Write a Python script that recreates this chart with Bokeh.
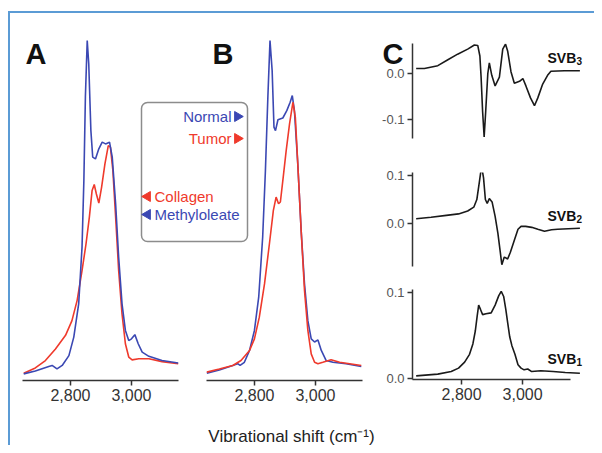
import math
from bokeh.plotting import figure
from bokeh.models import (Range1d, FixedTicker, NumeralTickFormatter,
                          PrintfTickFormatter, Label, BoxAnnotation)
from bokeh.layouts import row, column
from bokeh.embed import file_html
from bokeh.resources import INLINE

# ---------------- data ----------------
x_ticks = [2800, 3000]

# Panel A: reference compounds
a_methyl_x = [2647, 2685, 2729, 2740, 2756, 2773, 2795, 2811, 2827, 2838, 2844, 2849, 2855, 2860,
              2867, 2873, 2882, 2893, 2904, 2915, 2928, 2937, 2948, 2958, 2969, 2980, 2991, 3000,
              3011, 3022, 3035, 3057, 3100, 3153]
a_methyl_y = [0.019, 0.027, 0.040, 0.043, 0.033, 0.043, 0.071, 0.124, 0.219, 0.381, 0.571, 0.810,
              0.971, 0.905, 0.714, 0.638, 0.633, 0.662, 0.681, 0.676, 0.681, 0.638, 0.505, 0.352,
              0.219, 0.143, 0.114, 0.119, 0.131, 0.105, 0.081, 0.069, 0.057, 0.050]
a_collagen_x = [2647, 2685, 2718, 2751, 2784, 2805, 2822, 2838, 2851, 2862, 2871, 2878, 2885, 2893,
                2902, 2913, 2924, 2931, 2939, 2948, 2958, 2969, 2980, 2991, 3002, 3024, 3057, 3100,
                3153]
a_collagen_y = [0.021, 0.036, 0.057, 0.090, 0.129, 0.171, 0.229, 0.314, 0.390, 0.467, 0.543, 0.560,
                0.533, 0.507, 0.552, 0.619, 0.671, 0.667, 0.600, 0.467, 0.314, 0.190, 0.105, 0.067,
                0.059, 0.062, 0.062, 0.054, 0.048]

# Panel B: tissues
b_normal_x = [2644, 2685, 2729, 2745, 2753, 2767, 2784, 2800, 2814, 2827, 2836, 2844, 2851, 2858,
              2864, 2869, 2877, 2893, 2906, 2917, 2924, 2931, 2942, 2953, 2964, 2975, 2986, 2997,
              3008, 3019, 3035, 3057, 3100, 3150]
b_normal_y = [0.021, 0.030, 0.043, 0.048, 0.043, 0.052, 0.086, 0.143, 0.238, 0.410, 0.600, 0.810,
              0.971, 0.886, 0.724, 0.714, 0.745, 0.750, 0.771, 0.795, 0.814, 0.771, 0.619, 0.429,
              0.276, 0.171, 0.119, 0.110, 0.116, 0.086, 0.057, 0.052, 0.048, 0.040]
b_tumor_x = [2644, 2685, 2729, 2756, 2784, 2800, 2816, 2833, 2849, 2862, 2871, 2879, 2885, 2893,
             2904, 2915, 2926, 2934, 2942, 2953, 2964, 2975, 2986, 2997, 3008, 3024, 3051, 3079, 3150]
b_tumor_y = [0.024, 0.033, 0.043, 0.057, 0.086, 0.119, 0.181, 0.276, 0.390, 0.486, 0.524, 0.505,
             0.510, 0.571, 0.657, 0.733, 0.795, 0.752, 0.619, 0.429, 0.257, 0.143, 0.076, 0.052,
             0.048, 0.052, 0.059, 0.052, 0.043]

# Panel C: singular value basis spectra
svb3_x = [2651, 2678, 2722, 2755, 2787, 2820, 2842, 2853, 2860, 2864, 2869, 2874, 2879, 2886, 2891,
          2899, 2910, 2924, 2935, 2944, 2951, 2962, 2973, 2990, 3001, 3011, 3026, 3039, 3050, 3066,
          3082, 3093, 3137, 3188]
svb3_y = [0.011, 0.011, 0.017, 0.030, 0.042, 0.053, 0.062, 0.061, 0.038, -0.008, -0.083, -0.138,
          -0.083, 0.000, 0.023, -0.004, -0.027, -0.008, 0.053, 0.064, 0.049, 0.004, -0.021, -0.017,
          -0.011, -0.027, -0.053, -0.070, -0.053, -0.023, -0.004, 0.005, 0.006, 0.006]
svb2_x = [2651, 2700, 2750, 2790, 2820, 2840, 2850, 2858, 2863, 2867, 2872, 2878, 2884, 2891, 2900,
          2910, 2919, 2926, 2932, 2940, 2946, 2951, 2960, 2973, 2985, 2995, 3010, 3030, 3050, 3072,
          3095, 3115, 3150, 3188]
svb2_y = [0.010, 0.013, 0.017, 0.020, 0.026, 0.034, 0.050, 0.085, 0.108, 0.114, 0.095, 0.050, 0.042,
          0.052, 0.045, 0.015, -0.020, -0.055, -0.086, -0.070, -0.072, -0.074, -0.060, -0.035,
          -0.012, -0.006, -0.006, -0.008, -0.012, -0.016, -0.013, -0.012, -0.011, -0.010]
svb1_x = [2651, 2722, 2766, 2790, 2810, 2826, 2837, 2845, 2851, 2856, 2862, 2869, 2880, 2897, 2910,
          2922, 2930, 2938, 2945, 2951, 2958, 2965, 2975, 2985, 2995, 3005, 3017, 3030, 3060, 3100,
          3140, 3188]
svb1_y = [0.003, 0.005, 0.008, 0.012, 0.019, 0.028, 0.040, 0.055, 0.072, 0.085, 0.080, 0.074, 0.075,
          0.076, 0.085, 0.096, 0.101, 0.095, 0.080, 0.065, 0.048, 0.038, 0.028, 0.016, 0.012, 0.010,
          0.011, 0.008, 0.009, 0.008, 0.007, 0.006]

legend_labels = ["Normal", "Tumor", "Collagen", "Methyloleate"]

# ---------------- styling / layout ----------------
BLUE = "#3b48b3"
RED = "#ef3a2c"
INK = "#222222"
FONT = "Liberation Sans"
legend_colors = [BLUE, RED, RED, BLUE]
legend_side = ["right", "right", "left", "left"]
legend_rows_px = [116, 138, 196, 214]

ORIGIN_X, ORIGIN_Y = 10, 13          # page position of the layout content
TOTAL_H = 432
X_START, X_END = 2643, 3154
PX_PER_UNIT = 0.3053

# ---- panels A + B share one frame (two x scales) ----
AB_BL, AB_BR, AB_BT = 12, 10, 17
AB_W, AB_H = 340, 350
AB_BB = TOTAL_H - AB_BT - AB_H
AB_TOTAL_W = AB_BL + AB_W + AB_BR
B_OFFSET = 184
span = AB_W / PX_PER_UNIT
range_a = (X_START, X_START + span)
range_b = (X_START - B_OFFSET / PX_PER_UNIT, X_START - B_OFFSET / PX_PER_UNIT + span)


def base_fig(**kw):
    f = figure(frame_width=AB_W, frame_height=AB_H, min_border_left=AB_BL,
               min_border_right=AB_BR, min_border_top=AB_BT, min_border_bottom=AB_BB,
               y_range=Range1d(0, 1), y_axis_location=None,
               toolbar_location=None, output_backend="svg", outline_line_color=None, **kw)
    f.grid.visible = False
    return f


def style_axis(ax, size="16px"):
    ax.axis_line_color = "#333333"
    ax.axis_line_width = 1.5
    ax.major_tick_line_color = "#333333"
    ax.major_tick_line_width = 1.5
    ax.major_tick_in = 0
    ax.major_tick_out = 5
    ax.minor_tick_line_color = None
    ax.major_label_text_font = FONT
    ax.major_label_text_font_size = size
    ax.major_label_text_color = "#333333"
    ax.major_label_standoff = 3


def spectrum_axis(ax):
    ax.ticker = FixedTicker(ticks=x_ticks)
    ax.formatter = NumeralTickFormatter(format="0,0")
    ax.bounds = (X_START, X_END)
    style_axis(ax)


# main figure: panel A scale as its own x range, panel B on an extra range
ab = base_fig(x_range=Range1d(*range_a), x_axis_location="below")
ab.extra_x_ranges = {"b": Range1d(*range_b)}
spectrum_axis(ab.xaxis[0])

# transparent overlay carrying panel B's axis at the same baseline
ab_axis_b = base_fig(x_range=Range1d(*range_b), x_axis_location="below",
                     background_fill_color=None, border_fill_color=None,
                     margin=(0, 0, 0, -AB_TOTAL_W))
spectrum_axis(ab_axis_b.xaxis[0])

FRAME_L = ORIGIN_X + AB_BL
FRAME_T = ORIGIN_Y + AB_BT


def abx(px):
    return range_a[0] + (px - FRAME_L) / PX_PER_UNIT


def aby(py):
    return (FRAME_T + AB_H - py) / AB_H


LW = 1.6
ab.line(a_collagen_x, a_collagen_y, color=RED, line_width=LW)
ab.line(a_methyl_x, a_methyl_y, color=BLUE, line_width=LW)
ab.line(b_normal_x, b_normal_y, x_range_name="b", color=BLUE, line_width=LW)
ab.line(b_tumor_x, b_tumor_y, x_range_name="b", color=RED, line_width=LW)

# legend box
ab.add_layout(BoxAnnotation(left=abx(141), right=abx(247), top=aby(102), bottom=aby(241),
                            fill_color="white", fill_alpha=1.0, line_color="#8c8c8c",
                            line_alpha=1.0, line_width=1.5, border_radius=6, level="underlay"))
for lab, col, side, py in zip(legend_labels, legend_colors, legend_side, legend_rows_px):
    if side == "right":
        ab.add_layout(Label(x=abx(231), y=aby(py), text=lab, text_align="right",
                            text_baseline="middle", text_color=col, text_font=FONT,
                            text_font_size="15px"))
        ab.scatter([abx(237)], [aby(py)], marker="triangle", angle=-math.pi / 2, size=10,
                   color=col)
    else:
        ab.add_layout(Label(x=abx(154), y=aby(py), text=lab, text_align="left",
                            text_baseline="middle", text_color=col, text_font=FONT,
                            text_font_size="15px"))
        ab.scatter([abx(147)], [aby(py)], marker="triangle", angle=math.pi / 2, size=10,
                   color=col)

for letter, px in (("A", 25), ("B", 212)):
    ab.add_layout(Label(x=abx(px), y=aby(53), text=letter, text_font=FONT,
                        text_font_size="29px", text_font_style="bold", text_color="#111111",
                        text_baseline="alphabetic"))

# ---- panel C: three stacked figures ----
C_START = 2639
C_PX_PER_UNIT = 0.3049
C_AXIS_END = 3157
C_BL, C_BR = 40, 6
C_W = 176
C_END = C_START + C_W / C_PX_PER_UNIT
C_TOTAL_W = C_BL + C_W + C_BR
C_LEFT = ORIGIN_X + AB_TOTAL_W
C_FRAME_L = C_LEFT + C_BL


def make_c(xs, ys, yr, frame_h, btop, bbot, yticks, name, sub, name_base_py, top_px,
           with_x=False):
    f = figure(frame_width=C_W, frame_height=frame_h, min_border_left=C_BL,
               min_border_right=C_BR, min_border_top=btop, min_border_bottom=bbot,
               x_range=Range1d(C_START, C_END), y_range=Range1d(*yr),
               x_axis_location="below" if with_x else None,
               toolbar_location=None, output_backend="svg", outline_line_color=None)
    f.grid.visible = False
    ya = f.yaxis[0]
    ya.ticker = FixedTicker(ticks=yticks)
    ya.formatter = PrintfTickFormatter(format="%.1f")
    style_axis(ya, "13px")
    ya.major_label_text_color = "#555555"
    if with_x:
        xa = f.xaxis[0]
        xa.ticker = FixedTicker(ticks=x_ticks)
        xa.formatter = NumeralTickFormatter(format="0,0")
        style_axis(xa)
        xa.bounds = (C_START, C_AXIS_END)
    f.line(xs, ys, color="#1a1a1a", line_width=LW)

    def cx(px):
        return C_START + (px - C_FRAME_L) / C_PX_PER_UNIT

    def cy(py):
        return yr[1] - (py - top_px) * (yr[1] - yr[0]) / frame_h

    f.add_layout(Label(x=cx(547), y=cy(name_base_py), text=name, text_font=FONT,
                       text_font_size="14px", text_font_style="bold", text_color="#111111",
                       text_baseline="alphabetic"))
    f.add_layout(Label(x=cx(576), y=cy(name_base_py + 3), text=sub, text_font=FONT,
                       text_font_size="10px", text_font_style="bold", text_color="#111111",
                       text_baseline="alphabetic"))
    return f


c3 = make_c(svb3_x, svb3_y, (-0.1413, 0.0652), 95, 30, 17, [-0.1, 0.0],
            "SVB", "3", 57, ORIGIN_Y + 30)
c2 = make_c(svb2_x, svb2_y, (-0.0896, 0.1063), 94, 17, 14, [0.0, 0.1],
            "SVB", "2", 215, ORIGIN_Y + 142 + 17)
c1 = make_c(svb1_x, svb1_y, (-0.0012, 0.1031), 90, 9, 66, [0.0, 0.1],
            "SVB", "1", 358, ORIGIN_Y + 142 + 125 + 9, with_x=True)

# ---- transparent text layer over the whole chart (panel letter C, x-axis title) ----
TOTAL_W = AB_TOTAL_W + C_TOTAL_W
text_layer = figure(frame_width=TOTAL_W, frame_height=TOTAL_H, min_border=0,
                    x_range=Range1d(0, TOTAL_W), y_range=Range1d(TOTAL_H, 0),
                    x_axis_location=None, y_axis_location=None, toolbar_location=None,
                    output_backend="svg", outline_line_color=None,
                    background_fill_color=None, border_fill_color=None,
                    margin=(0, 0, 0, -TOTAL_W))
text_layer.grid.visible = False
text_layer.add_layout(Label(x=382 - ORIGIN_X, y=53 - ORIGIN_Y, text="C", text_font=FONT,
                            text_font_size="29px", text_font_style="bold",
                            text_color="#111111", text_baseline="alphabetic"))
text_layer.add_layout(Label(x=291 - ORIGIN_X, y=436 - ORIGIN_Y,
                            text="Vibrational shift (cm\u207b\u00b9)",
                            text_font=FONT, text_font_size="17px", text_color=INK,
                            text_align="center", text_baseline="alphabetic"))

right = column(c3, c2, c1, spacing=0)
layout = row(row(ab, ab_axis_b, spacing=0), right, text_layer, spacing=0,
             styles={"border-top": "2px solid #5b9bd5", "border-left": "2px solid #5b9bd5",
                     "margin-top": "11px", "margin-left": "8px"})

open("out.html", "w").write(file_html(layout, INLINE))
